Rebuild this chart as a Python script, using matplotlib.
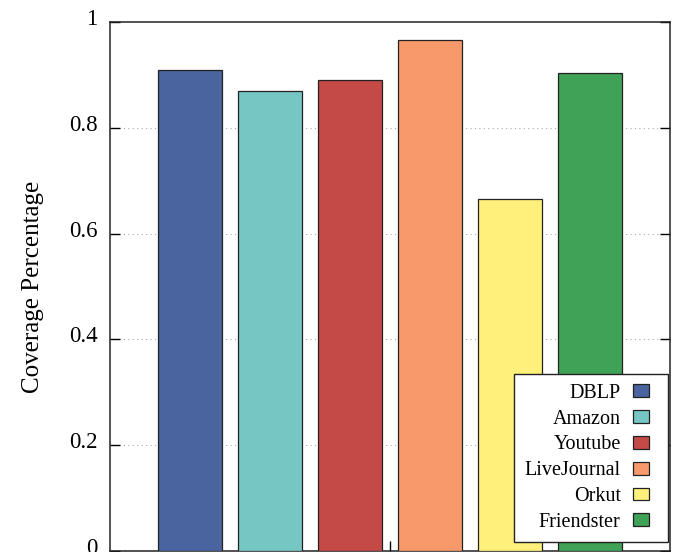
import matplotlib
matplotlib.use("Agg")
import matplotlib.pyplot as plt
import matplotlib.transforms as mtransforms
from matplotlib.patches import Patch, Rectangle
from matplotlib.legend_handler import HandlerPatch

# data
datasets = ["DBLP", "Amazon", "Youtube", "LiveJournal", "Orkut", "Friendster"]
coverage = [0.909, 0.870, 0.891, 0.966, 0.665, 0.903]
colors = ["#4A64A0", "#76C6C4", "#C34A47", "#F8996B", "#FEF07A", "#3FA257"]
yticks = [0, 0.2, 0.4, 0.6, 0.8, 1]
ytick_labels = ["0", "0.2", "0.4", "0.6", "0.8", "1"]

plt.rcParams["font.family"] = ["Liberation Serif", "DejaVu Serif"]

fig = plt.figure(figsize=(6.83, 5.52), dpi=100)
ax = fig.add_axes([110 / 683, 1 / 552, 560 / 683, 529 / 552])

x = list(range(len(datasets)))
ax.bar(x, coverage, width=0.8, color=colors, edgecolor="#222222",
       linewidth=0.9, zorder=3)

ax.set_xlim(-1, 6)
ax.set_ylim(0, 1)
ax.set_yticks(yticks)
ax.set_yticklabels(ytick_labels, fontsize=16.5)
ax.set_xticks([2.5])
ax.set_xticklabels([""])
ax.tick_params(axis="y", direction="in", length=7, width=1, right=True,
               pad=9)
ax.tick_params(axis="x", direction="in", length=7, width=1)

# shift tick labels up a little, like the reference
offset = mtransforms.ScaledTranslation(0, 5 / 100, fig.dpi_scale_trans)
for lab in ax.get_yticklabels():
    lab.set_transform(lab.get_transform() + offset)

for s in ax.spines.values():
    s.set_linewidth(1.1)
    s.set_color("#222222")

for v in yticks[1:-1]:
    ax.axhline(v, color="#aaaaaa", linestyle=(0, (1, 3)), linewidth=0.8,
               zorder=1)

ax.set_ylabel("Coverage Percentage", fontsize=18, labelpad=18)


# small square on the left part of the handle box, leaving room on the right
def square(legend, orig_handle, xdescent, ydescent, width, height, fontsize):
    return Rectangle((-xdescent, -ydescent), width * 0.64, height)


handles = [Patch(facecolor=c, edgecolor="#222222", linewidth=0.9)
           for c in colors]
leg = ax.legend(handles, datasets, loc="lower right",
                bbox_to_anchor=(558 / 560, 9 / 529), borderaxespad=0,
                markerfirst=False, fontsize=14.5, frameon=True, fancybox=False,
                edgecolor="#222222", framealpha=1, handlelength=1.25,
                handleheight=0.6, labelspacing=0.34, handletextpad=0.6,
                borderpad=0.5,
                handler_map={Patch: HandlerPatch(patch_func=square)})
leg.get_frame().set_linewidth(1.0)
leg.set_zorder(5)

fig.savefig("out.png", dpi=100)
